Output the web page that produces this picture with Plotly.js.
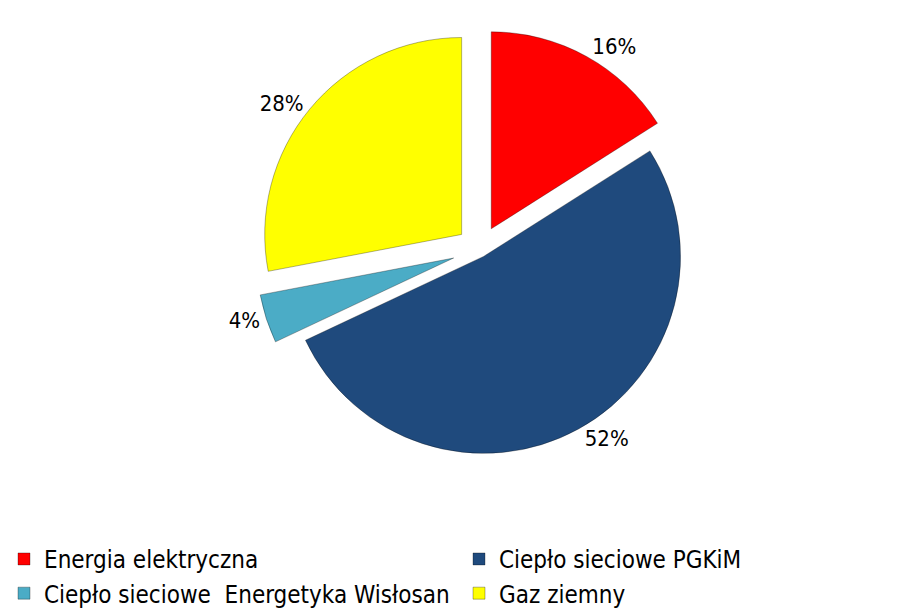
<!DOCTYPE html>
<html>
<head>
<meta charset="utf-8">
<script src="https://cdn.plot.ly/plotly-3.0.1.min.js"></script>
<style>html,body{margin:0;padding:0;background:#fff;}#chart{width:914px;height:616px;}</style>
</head>
<body>
<div id="chart"></div>
<script>
const categories = ["Energia elektryczna", "Ciepło sieciowe PGKiM", "Ciepło sieciowe  Energetyka Wisłosan", "Gaz ziemny"];
const values = [16, 52, 4, 28];
const colors = ["#FF0000", "#1F4A7D", "#4BACC6", "#FFFF00"];
const pulls = [0.12, 0.04, 0.14, 0.12];
const FONT = "DejaVu Sans Condensed, Liberation Sans Narrow, Arial Narrow, Liberation Sans, Arial, sans-serif";

const trace = {
  type: "pie",
  labels: categories,
  values: values,
  sort: false,
  direction: "clockwise",
  rotation: 0,
  pull: pulls,
  marker: { colors: colors, line: { color: "rgba(0,0,0,0.3)", width: 1 } },
  textinfo: "percent",
  texttemplate: "%{percent:.0%}",
  textposition: "outside",
  outsidetextfont: { size: 22, color: "#000", family: FONT },
  domain: { x: [0.05, 1], y: [0, 1] },
  hoverinfo: "label+percent"
};

const layout = {
  width: 914,
  height: 616,
  paper_bgcolor: "#fff",
  margin: { l: 0, r: 0, t: 25, b: 140 },
  showlegend: true,
  legend: {
    orientation: "h",
    x: 0.005, xanchor: "left",
    y: -0.14, yanchor: "top",
    entrywidth: 410,
    entrywidthmode: "pixels",
    traceorder: "normal",
    font: { size: 24, color: "#000", family: FONT },
    itemwidth: 30
  }
};

Plotly.newPlot("chart", [trace], layout, { displayModeBar: false, staticPlot: true });
</script>
</body>
</html>
